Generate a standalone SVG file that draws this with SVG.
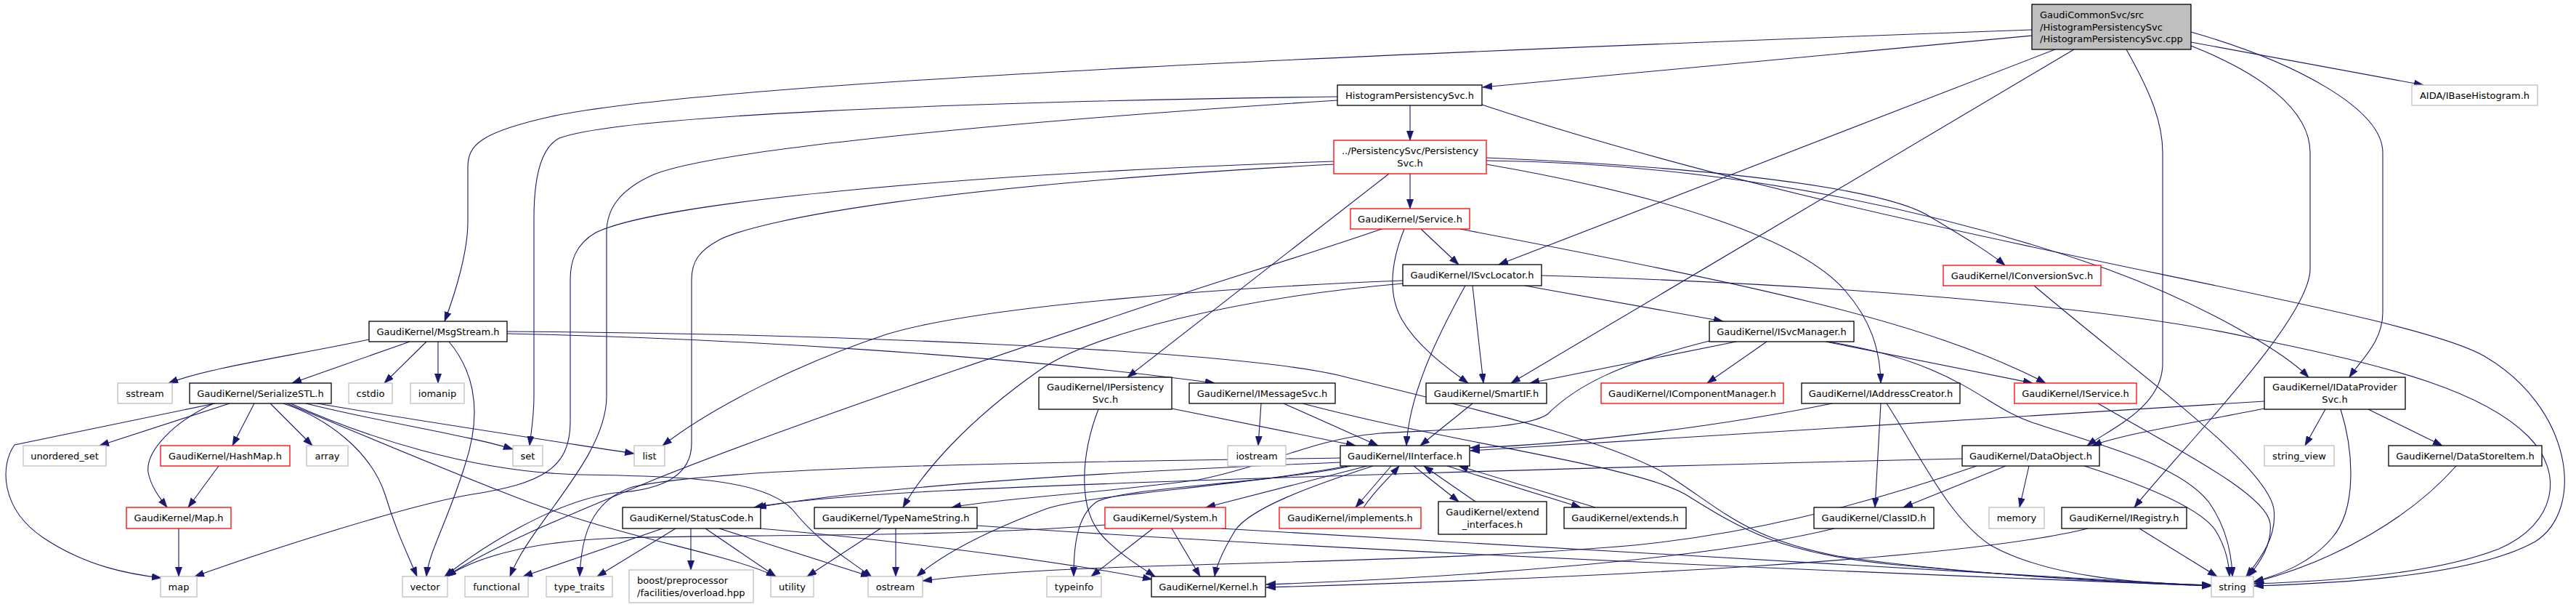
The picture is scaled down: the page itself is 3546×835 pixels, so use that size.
<svg xmlns="http://www.w3.org/2000/svg" width="3546" height="835" viewBox="0 0 3546 835">
<style>
.n rect{fill:#fff;stroke:#000;stroke-width:1.3}
.r rect{stroke:#ff0000}
.g rect{stroke:#bfbfbf}
.m rect{fill:#bfbfbf}
text{font-family:"DejaVu Sans","Liberation Sans",sans-serif;font-size:13px;text-anchor:middle;fill:#000}
.l text{text-anchor:start}
#edges path{fill:none;stroke:#191970;stroke-width:1.1;marker-end:url(#a)}
</style>
<defs>
<marker id="a" markerUnits="userSpaceOnUse" markerWidth="14" markerHeight="10" refX="13" refY="4.7" orient="auto"><path d="M0,0 L13.3,4.7 L0,9.4 z" fill="#191970" stroke="#191970" stroke-width="0.5"/></marker>
</defs>
<rect width="3546" height="835" fill="#fff"/>
<g id="edges">
<path d="M2797,49 L2041,120"/>
<path d="M2797,41 C2000,70 1000,110 760,160 C660,182 644,200 644,230 L644,305 C644,345 628,400 612,442"/>
<path d="M2829,68 L2063,364"/>
<path d="M2855,68 L2080,527"/>
<path d="M2927,68 C2962,130 2977,170 2977,210 L2977,500 C2977,560 2905,590 2873,613"/>
<path d="M3016,63 C3110,100 3180,150 3180,210 L3180,370 C3180,440 3000,620 2938,698"/>
<path d="M3016,44 C3160,85 3280,150 3280,210 L3280,430 C3280,470 3250,495 3234,519"/>
<path d="M3016,58 L3336,117"/>
<path d="M1941,145 L1941,193"/>
<path d="M1841,133 C1300,140 850,160 770,190 C742,204 735,250 735,300 L735,545 C735,575 731,595 729,613"/>
<path d="M1841,138 C1500,160 1000,200 900,240 C850,262 835,290 835,320 L835,545 C835,630 730,720 702,793"/>
<path d="M2040,144 C2600,330 3300,420 3420,490 C3540,560 3560,700 3490,745 C3400,795 3200,803 3103,806"/>
<path d="M1941,239 L1941,287"/>
<path d="M1836,222 C1300,240 900,280 820,320 C792,336 785,360 785,385 L785,580 C785,645 745,665 650,680 C560,695 360,760 268,793"/>
<path d="M1836,226 C1300,255 1050,300 990,330 C962,345 952,360 952,385 L952,610 C952,660 900,675 846,678 C760,690 660,755 612,793"/>
<path d="M1912,239 L1552,519"/>
<path d="M2046,226 C2300,270 2480,330 2540,400 C2575,440 2588,480 2589,527"/>
<path d="M2046,217 C2350,230 2600,258 2660,300 C2710,330 2740,348 2760,365"/>
<path d="M2046,221 C2400,225 2700,300 2900,370 C3050,425 3150,490 3178,519"/>
<path d="M1956,315 L2008,364"/>
<path d="M1933,315 C1915,360 1910,405 1930,440 C1950,475 1990,505 2021,527"/>
<path d="M2010,315 C2400,390 2650,440 2816,527"/>
<path d="M1902,315 C1800,350 1700,380 1640,400 C1400,480 1100,580 900,660 C780,710 680,750 614,793"/>
<path d="M1931,386 C1700,395 1350,420 1220,460 C1100,500 980,560 912,613"/>
<path d="M1931,390 C1700,410 1500,460 1430,510 C1330,580 1270,650 1243,698"/>
<path d="M2027,393 L2042,527"/>
<path d="M2017,393 C1980,460 1940,540 1936,613"/>
<path d="M2099,393 L2372,442"/>
<path d="M2122,379 C2500,390 2900,420 3100,465 C3300,505 3420,540 3480,600 C3530,650 3520,720 3440,755 C3350,790 3200,800 3103,803"/>
<path d="M2800,393 C2950,520 3120,640 3130,700 C3135,740 3110,770 3092,793"/>
<path d="M508,467 C400,490 290,505 232,527"/>
<path d="M564,470 L402,527"/>
<path d="M587,470 L529,527"/>
<path d="M603,470 L603,527"/>
<path d="M618,470 C660,520 660,580 640,640 C615,720 590,760 587,793"/>
<path d="M698,459 C1000,465 1400,490 1672,527"/>
<path d="M698,456 C1100,458 1700,480 1850,518 C2000,556 2200,600 2290,650 C2370,700 2400,740 2530,765 C2700,790 2900,800 3044,805"/>
<path d="M296,555 L20,612 C0,640 0,700 60,740 C120,780 180,790 222,795"/>
<path d="M316,555 L137,613"/>
<path d="M294,555 C240,580 200,620 204,650 C208,670 220,685 230,698"/>
<path d="M350,555 L320,613"/>
<path d="M372,555 L430,613"/>
<path d="M390,555 C450,575 510,620 530,680 C545,730 560,760 574,793"/>
<path d="M421,555 C520,580 650,600 706,618"/>
<path d="M425,553 C550,575 750,605 873,624"/>
<path d="M400,555 C500,600 650,650 800,653 C950,655 1050,660 1090,700 C1130,750 1170,770 1200,794"/>
<path d="M395,555 C480,590 560,625 700,680 C850,740 1000,760 1068,793"/>
<path d="M301,641 L259,698"/>
<path d="M246,727 L246,793"/>
<path d="M1613,562 L1866,613"/>
<path d="M1512,563 C1490,620 1480,700 1520,740 C1545,765 1570,780 1590,793"/>
<path d="M1736,555 L1732,613"/>
<path d="M1767,555 L1897,613"/>
<path d="M1793,555 C2000,610 2250,640 2320,680 C2400,730 2450,760 2600,776 C2800,795 2950,803 3044,806"/>
<path d="M2027,555 L1955,613"/>
<path d="M2390,470 L2106,527"/>
<path d="M2432,470 L2350,527"/>
<path d="M2513,470 L2798,527"/>
<path d="M2516,470 C2700,500 2730,560 2800,582 C2900,615 3000,640 3040,690 C3065,725 3072,760 3073,793"/>
<path d="M2353,469 C2230,500 2170,530 2130,570 C2100,590 2000,590 1900,596 C1800,605 1750,640 1650,660 C1500,680 1380,685 1310,698"/>
<path d="M2522,555 C2350,590 2150,612 2024,616"/>
<path d="M2589,555 L2581,698"/>
<path d="M2597,555 C2640,620 2680,710 2740,750 C2820,795 2950,803 3044,805"/>
<path d="M2888,555 C3000,620 3120,680 3125,720 C3128,750 3110,775 3095,793"/>
<path d="M3117,552 C2700,580 2300,605 2024,620"/>
<path d="M3117,562 C3000,585 2920,598 2880,613"/>
<path d="M3201,563 L3173,613"/>
<path d="M3260,563 L3362,613"/>
<path d="M3222,563 C3240,620 3245,700 3210,740 C3180,775 3140,790 3103,800"/>
<path d="M3381,641 C3320,710 3220,770 3103,801"/>
<path d="M2761,641 L2620,698"/>
<path d="M2793,641 L2780,698"/>
<path d="M2869,641 C2960,670 3030,700 3050,730 C3065,755 3068,775 3069,793"/>
<path d="M2701,631 C2300,640 1600,660 1300,675 C1150,683 1080,690 1038,698"/>
<path d="M2721,641 C2550,700 2400,735 2250,750 C1900,780 1500,770 1270,799"/>
<path d="M2874,727 C2700,770 2200,795 1743,808"/>
<path d="M2945,727 L3052,793"/>
<path d="M2525,727 C2350,770 2000,795 1743,804"/>
<path d="M1845,636 C1500,650 1200,670 1042,698"/>
<path d="M1845,630 C1500,635 1000,640 870,670 C812,690 800,740 798,793"/>
<path d="M1860,641 C1750,665 1550,670 1510,690 C1480,710 1478,760 1478,793"/>
<path d="M1855,641 C1700,670 1500,680 1440,700 C1360,730 1300,760 1262,793"/>
<path d="M1882,641 L1660,698"/>
<path d="M1890,641 C1800,670 1720,700 1700,730 C1685,755 1675,775 1672,793"/>
<path d="M1915,641 L1866,698"/>
<path d="M1877,698 C1895,672 1910,660 1926,641"/>
<path d="M1946,641 L2008,690"/>
<path d="M2031,690 L1960,641"/>
<path d="M1992,641 L2176,698"/>
<path d="M2196,698 L2008,641"/>
<path d="M912,727 L720,793"/>
<path d="M930,727 L822,793"/>
<path d="M951,727 L951,784"/>
<path d="M971,727 L1068,793"/>
<path d="M990,727 L1198,793"/>
<path d="M1046,727 C1200,740 1450,770 1586,797"/>
<path d="M1212,727 L1111,793"/>
<path d="M1233,727 L1233,793"/>
<path d="M1345,723 C1800,755 2500,785 3044,806"/>
<path d="M1587,727 L1502,793"/>
<path d="M1613,727 L1652,793"/>
<path d="M1681,727 C2200,760 2700,790 3044,806"/>
<path d="M1521,722 C1300,740 1000,735 850,740 C720,745 650,770 615,793"/>
</g>
<g id="n0" class="n m l"><rect x="2797" y="6" width="219" height="62"/><text x="2808" y="25">GaudiCommonSvc/src</text><text x="2808" y="41.5">/HistogramPersistencySvc</text><text x="2808" y="58">/HistogramPersistencySvc.cpp</text></g>
<g id="n1" class="n"><rect x="1841" y="117" width="199" height="28"/><text x="1940.5" y="135.5">HistogramPersistencySvc.h</text></g>
<g id="n2" class="n g"><rect x="3320" y="117" width="173" height="28"/><text x="3406.5" y="135.5">AIDA/IBaseHistogram.h</text></g>
<g id="n3" class="n r"><rect x="1836" y="193" width="210" height="46"/><text x="1941" y="212">../PersistencySvc/Persistency</text><text x="1941" y="229">Svc.h</text></g>
<g id="n4" class="n r"><rect x="1859" y="287" width="164" height="28"/><text x="1941" y="305.5">GaudiKernel/Service.h</text></g>
<g id="n5" class="n"><rect x="1931" y="364" width="191" height="29"/><text x="2026.5" y="383">GaudiKernel/ISvcLocator.h</text></g>
<g id="n6" class="n r"><rect x="2675" y="365" width="217" height="28"/><text x="2783.5" y="383.5">GaudiKernel/IConversionSvc.h</text></g>
<g id="n7" class="n"><rect x="508" y="442" width="190" height="28"/><text x="603" y="460.5">GaudiKernel/MsgStream.h</text></g>
<g id="n8" class="n"><rect x="2353" y="442" width="199" height="28"/><text x="2452.5" y="460.5">GaudiKernel/ISvcManager.h</text></g>
<g id="n9" class="n g"><rect x="162" y="527" width="75" height="28"/><text x="199.5" y="545.5">sstream</text></g>
<g id="n10" class="n"><rect x="261" y="527" width="195" height="28"/><text x="358.5" y="545.5">GaudiKernel/SerializeSTL.h</text></g>
<g id="n11" class="n g"><rect x="480" y="527" width="60" height="28"/><text x="510" y="545.5">cstdio</text></g>
<g id="n12" class="n g"><rect x="565" y="527" width="74" height="28"/><text x="602" y="545.5">iomanip</text></g>
<g id="n13" class="n"><rect x="1430" y="519" width="183" height="44"/><text x="1521.5" y="537">GaudiKernel/IPersistency</text><text x="1521.5" y="554">Svc.h</text></g>
<g id="n14" class="n"><rect x="1637" y="527" width="201" height="28"/><text x="1737.5" y="545.5">GaudiKernel/IMessageSvc.h</text></g>
<g id="n15" class="n"><rect x="1963" y="527" width="166" height="28"/><text x="2046" y="545.5">GaudiKernel/SmartIF.h</text></g>
<g id="n16" class="n r"><rect x="2204" y="527" width="251" height="28"/><text x="2329.5" y="545.5">GaudiKernel/IComponentManager.h</text></g>
<g id="n17" class="n"><rect x="2480" y="527" width="218" height="28"/><text x="2589" y="545.5">GaudiKernel/IAddressCreator.h</text></g>
<g id="n18" class="n r"><rect x="2773" y="527" width="168" height="28"/><text x="2857" y="545.5">GaudiKernel/IService.h</text></g>
<g id="n19" class="n"><rect x="3117" y="519" width="194" height="44"/><text x="3214" y="537">GaudiKernel/IDataProvider</text><text x="3214" y="554">Svc.h</text></g>
<g id="n20" class="n g"><rect x="32" y="613" width="114" height="28"/><text x="89" y="631.5">unordered_set</text></g>
<g id="n21" class="n r"><rect x="221" y="613" width="178" height="28"/><text x="310" y="631.5">GaudiKernel/HashMap.h</text></g>
<g id="n22" class="n g"><rect x="422" y="613" width="57" height="28"/><text x="450.5" y="631.5">array</text></g>
<g id="n23" class="n g"><rect x="706" y="613" width="41" height="28"/><text x="726.5" y="631.5">set</text></g>
<g id="n24" class="n g"><rect x="873" y="613" width="42" height="28"/><text x="894" y="631.5">list</text></g>
<g id="n25" class="n g"><rect x="1690" y="613" width="80" height="28"/><text x="1730" y="631.5">iostream</text></g>
<g id="n26" class="n"><rect x="1845" y="613" width="178" height="28"/><text x="1934" y="631.5">GaudiKernel/IInterface.h</text></g>
<g id="n27" class="n"><rect x="2701" y="613" width="189" height="28"/><text x="2795.5" y="631.5">GaudiKernel/DataObject.h</text></g>
<g id="n28" class="n g"><rect x="3117" y="613" width="96" height="28"/><text x="3165" y="631.5">string_view</text></g>
<g id="n29" class="n"><rect x="3288" y="613" width="211" height="28"/><text x="3393.5" y="631.5">GaudiKernel/DataStoreItem.h</text></g>
<g id="n30" class="n r"><rect x="174" y="698" width="144" height="29"/><text x="246" y="717">GaudiKernel/Map.h</text></g>
<g id="n31" class="n"><rect x="857" y="698" width="190" height="29"/><text x="952" y="717">GaudiKernel/StatusCode.h</text></g>
<g id="n32" class="n"><rect x="1121" y="698" width="224" height="29"/><text x="1233" y="717">GaudiKernel/TypeNameString.h</text></g>
<g id="n33" class="n r"><rect x="1521" y="698" width="166" height="29"/><text x="1604" y="717">GaudiKernel/System.h</text></g>
<g id="n34" class="n r"><rect x="1761" y="698" width="195" height="29"/><text x="1858.5" y="717">GaudiKernel/implements.h</text></g>
<g id="n35" class="n"><rect x="1980" y="690" width="149" height="45"/><text x="2054.5" y="708.5">GaudiKernel/extend</text><text x="2054.5" y="725.5">_interfaces.h</text></g>
<g id="n36" class="n"><rect x="2153" y="698" width="168" height="29"/><text x="2237" y="717">GaudiKernel/extends.h</text></g>
<g id="n37" class="n"><rect x="2497" y="698" width="165" height="29"/><text x="2579.5" y="717">GaudiKernel/ClassID.h</text></g>
<g id="n38" class="n g"><rect x="2738" y="698" width="76" height="29"/><text x="2776" y="717">memory</text></g>
<g id="n39" class="n"><rect x="2838" y="698" width="172" height="29"/><text x="2924" y="717">GaudiKernel/IRegistry.h</text></g>
<g id="n40" class="n g"><rect x="221" y="793" width="50" height="28"/><text x="246" y="811.5">map</text></g>
<g id="n41" class="n g"><rect x="554" y="793" width="62" height="28"/><text x="585" y="811.5">vector</text></g>
<g id="n42" class="n g"><rect x="640" y="793" width="87" height="28"/><text x="683.5" y="811.5">functional</text></g>
<g id="n43" class="n g"><rect x="752" y="793" width="91" height="28"/><text x="797.5" y="811.5">type_traits</text></g>
<g id="n44" class="n g l"><rect x="866" y="784" width="171" height="45"/><text x="877" y="802.5">boost/preprocessor</text><text x="877" y="819.5">/facilities/overload.hpp</text></g>
<g id="n45" class="n g"><rect x="1061" y="793" width="59" height="28"/><text x="1090.5" y="811.5">utility</text></g>
<g id="n46" class="n g"><rect x="1195" y="793" width="75" height="28"/><text x="1232.5" y="811.5">ostream</text></g>
<g id="n47" class="n g"><rect x="1441" y="793" width="75" height="28"/><text x="1478.5" y="811.5">typeinfo</text></g>
<g id="n48" class="n"><rect x="1585" y="793" width="157" height="28"/><text x="1663.5" y="811.5">GaudiKernel/Kernel.h</text></g>
<g id="n49" class="n g"><rect x="3044" y="793" width="58" height="28"/><text x="3073" y="811.5">string</text></g>
</svg>
